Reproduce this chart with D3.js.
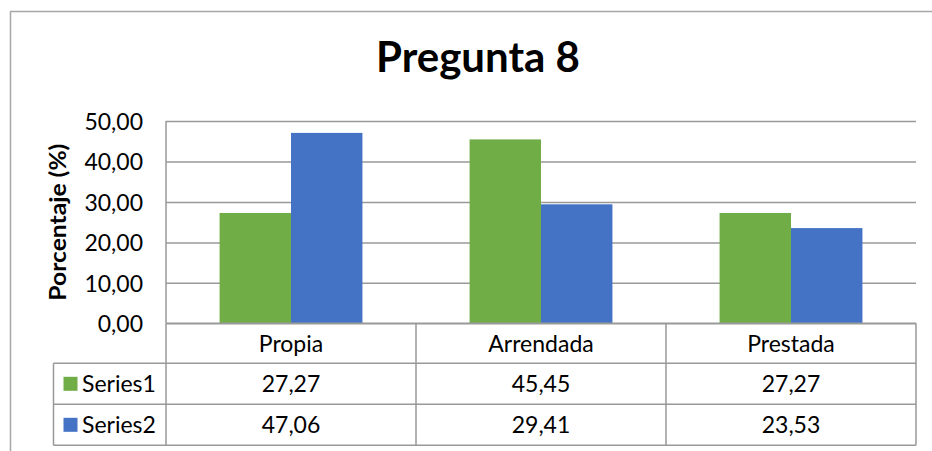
<!DOCTYPE html>
<html>
<head>
<meta charset="utf-8">
<script src="https://cdn.jsdelivr.net/npm/d3@7"></script>
<style>
  html, body { margin: 0; padding: 0; background: #fff; }
  svg { display: block; }
  text { font-family: Lato, "Open Sans", sans-serif; fill: #000; }
</style>
</head>
<body>
<svg id="chart" width="932" height="451"></svg>
<script>
const title = "Pregunta 8";
const yLabel = "Porcentaje (%)";
const categories = ["Propia", "Arrendada", "Prestada"];
const seriesNames = ["Series1", "Series2"];
const series1 = [27.27, 45.45, 27.27];
const series2 = [47.06, 29.41, 23.53];
const yTicks = [0, 10, 20, 30, 40, 50];
const colors = ["#70AD47", "#4472C4"];

const seriesValues = [series1, series2];
const loc = d3.formatLocale({decimal: ",", thousands: ".", grouping: [3], currency: ["", ""]});
const fmt = loc.format(".2f");

const svg = d3.select("#chart");
const W = 932, H = 451;

// outer chart border
svg.append("rect").attr("x", 10.5).attr("y", 11.5).attr("width", W + 20).attr("height", H + 20)
  .attr("fill", "#fff").attr("stroke", "#a6a6a6").attr("stroke-width", 1.5);

const plot = {left: 166, right: 916, top: 121, bottom: 323.3};
const tableLeft = 53.5;
const rowH = [40, 41, 41];

const x = d3.scaleBand().domain(categories).range([plot.left, plot.right]).paddingInner(0).paddingOuter(0);
const xs = d3.scaleBand().domain(seriesNames).range([0, x.bandwidth()]).paddingInner(0).paddingOuter(0.75);
const y = d3.scaleLinear().domain([0, 50]).range([plot.bottom, plot.top]);

// title
svg.append("text").attr("x", 478).attr("y", 72).attr("text-anchor", "middle")
  .attr("font-size", 42).attr("font-weight", "bold").text(title);

// gridlines
const grid = svg.append("g").attr("transform", `translate(${plot.left},0)`)
  .call(d3.axisLeft(y).tickValues(yTicks).tickSize(-(plot.right - plot.left)).tickFormat(""));
grid.select(".domain").remove();
grid.selectAll(".tick line").attr("stroke", "#999").attr("stroke-width", 1.5);

// left axis line
svg.append("line").attr("x1", plot.left).attr("x2", plot.left).attr("y1", plot.top).attr("y2", plot.bottom)
  .attr("stroke", "#999").attr("stroke-width", 1.5);

// y tick labels
const yAxis = svg.append("g").attr("transform", `translate(${plot.left - 23},0)`)
  .call(d3.axisLeft(y).tickValues(yTicks).tickSize(0).tickPadding(0).tickFormat(fmt));
yAxis.select(".domain").remove();
yAxis.selectAll(".tick text").attr("font-size", 23).attr("font-family", "Lato, sans-serif").attr("fill", "#000")
  .attr("dy", "0.36em");

// y label
svg.append("text").attr("transform", `translate(66,${(plot.top + plot.bottom) / 2}) rotate(-90)`)
  .attr("text-anchor", "middle").attr("font-size", 22).attr("font-weight", "bold")
  .attr("textLength", 157).attr("lengthAdjust", "spacingAndGlyphs").text(yLabel);

// bars
const groups = svg.append("g").selectAll("g").data(categories).join("g")
  .attr("transform", d => `translate(${x(d)},0)`);
groups.selectAll("rect").data((d, i) => seriesNames.map((s, j) => ({s, v: seriesValues[j][i], j})))
  .join("rect")
  .attr("x", d => xs(d.s)).attr("width", xs.bandwidth())
  .attr("y", d => y(d.v)).attr("height", d => y(0) - y(d.v))
  .attr("fill", d => colors[d.j]);

// data table
const tableColor = "#999";
const t = svg.append("g");
const r0 = plot.bottom, r1 = r0 + rowH[0], r2 = r1 + rowH[1], r3 = r2 + rowH[2];
t.append("line").attr("x1", plot.left).attr("x2", plot.right).attr("y1", r0).attr("y2", r0);
[r1, r2, r3].forEach(yy => t.append("line").attr("x1", tableLeft).attr("x2", plot.right).attr("y1", yy).attr("y2", yy));
t.append("line").attr("x1", tableLeft).attr("x2", tableLeft).attr("y1", r1).attr("y2", r3);
categories.forEach(c => t.append("line").attr("x1", x(c)).attr("x2", x(c)).attr("y1", r0).attr("y2", r3));
t.append("line").attr("x1", plot.right).attr("x2", plot.right).attr("y1", r0).attr("y2", r3);
t.selectAll("line").attr("stroke", tableColor).attr("stroke-width", 1.5);

// header labels
t.selectAll("text.cat").data(categories).join("text").attr("class", "cat")
  .attr("x", d => x(d) + x.bandwidth() / 2).attr("y", (r0 + r1) / 2).attr("dy", "0.36em")
  .attr("text-anchor", "middle").attr("font-size", 23).text(d => d);

// rows
const rowsY = [(r1 + r2) / 2, (r2 + r3) / 2];
seriesNames.forEach((s, j) => {
  t.append("rect").attr("x", 63.5).attr("y", rowsY[j] - 7).attr("width", 14).attr("height", 14).attr("fill", colors[j]);
  t.append("text").attr("x", 82).attr("y", rowsY[j]).attr("dy", "0.36em").attr("font-size", 23).text(s);
  t.selectAll(null).data(seriesValues[j]).join("text")
    .attr("x", (d, i) => x(categories[i]) + x.bandwidth() / 2).attr("y", rowsY[j]).attr("dy", "0.36em")
    .attr("text-anchor", "middle").attr("font-size", 23).text(d => fmt(d));
});
</script>
</body>
</html>
